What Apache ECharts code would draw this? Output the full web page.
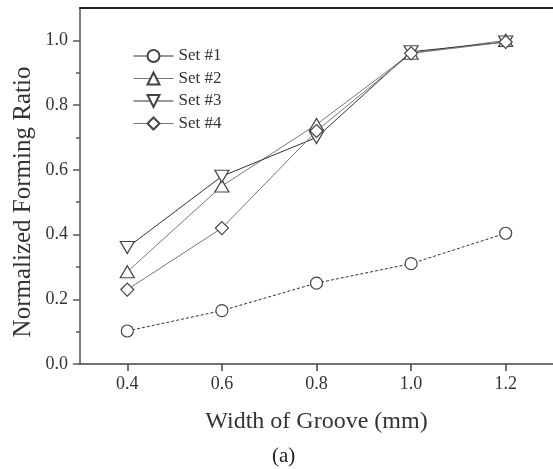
<!DOCTYPE html>
<html><head><meta charset="utf-8">
<script src="https://cdn.jsdelivr.net/npm/echarts@6/dist/echarts.min.js"></script>
<style>html,body{margin:0;padding:0;background:#fff}#c{width:553px;height:469px}</style>
</head><body><div id="c"></div>
<script>
var widths = [0.4, 0.6, 0.8, 1.0, 1.2];
var set1 = [0.102, 0.165, 0.25, 0.31, 0.404];
var set2 = [0.285, 0.55, 0.74, 0.96, 1.0];
var set3 = [0.36, 0.58, 0.70, 0.965, 0.995];
var set4 = [0.23, 0.42, 0.72, 0.96, 0.995];
var seriesNames = ['Set #1', 'Set #2', 'Set #3', 'Set #4'];
var xTicks = [0.4, 0.6, 0.8, 1.0, 1.2];
var yTicks = [0.0, 0.2, 0.4, 0.6, 0.8, 1.0];
var yMinorTicks = [0.1, 0.3, 0.5, 0.7, 0.9];

function pairs(v){ return widths.map(function(x,i){ return [x, v[i]]; }); }
var font = '"Liberation Serif", "DejaVu Serif", serif';
var diamond = 'path://M0,-1L1,0L0,1L-1,0Z';
function mk(name, data, symbol, size, color, type, rot){
  return {
    name: name, type: 'line', data: pairs(data), symbol: symbol, symbolSize: size,
    symbolRotate: rot || 0,
    lineStyle: {color: color, width: 1, type: type},
    itemStyle: {color: '#fff', borderColor: '#444', borderWidth: 1.2},
    emphasis: {disabled: true}, animation: false, z: 3
  };
}
var chart = echarts.init(document.getElementById('c'), null, {renderer: 'canvas'});
chart.setOption({
  animation: false,
  backgroundColor: '#fff',
  grid: {left: 80, width: 476, top: 8, height: 356, containLabel: false},
  legend: {
    orient: 'vertical', left: 133, top: 47.5, padding: 0,
    itemWidth: 40, itemHeight: 15, itemGap: 5.5,
    lineStyle: {type: 'solid', width: 1},
    textStyle: {fontFamily: font, fontSize: 17, color: '#333'},
    data: seriesNames
  },
  xAxis: [{
    type: 'value', min: 0.3, max: 1.3,
    name: 'Width of Groove (mm)', nameLocation: 'middle', nameGap: 46,
    nameTextStyle: {fontFamily: font, fontSize: 24, color: '#333'},
    axisLine: {lineStyle: {color: '#444', width: 1.5}},
    axisTick: {show: true, length: 7, inside: false, customValues: xTicks,
      lineStyle: {color: '#444', width: 1.5}},
    axisLabel: {fontFamily: font, fontSize: 18, color: '#333', margin: 11, customValues: xTicks,
      formatter: function(v){ return v.toFixed(1); }},
    splitLine: {show: false}
  }, {
    type: 'value', position: 'top', min: 0.3, max: 1.3,
    axisLine: {show: true, onZero: false, lineStyle: {color: '#222', width: 2}},
    axisTick: {show: false}, axisLabel: {show: false}, splitLine: {show: false}
  }],
  yAxis: [{
    type: 'value', min: 0, max: 1.1, interval: 0.1,
    axisLine: {show: true, lineStyle: {color: '#555', width: 1.5}},
    axisTick: {show: true, length: 7, customValues: yTicks, lineStyle: {color: '#555', width: 1.5}},
    axisLabel: {fontFamily: font, fontSize: 18, color: '#333', margin: 12, customValues: yTicks,
      formatter: function(v){ return v.toFixed(1); }},
    splitLine: {show: false}
  }, {
    type: 'value', min: 0, max: 1.1, position: 'left',
    axisLine: {show: false},
    axisTick: {show: true, length: 4, customValues: yMinorTicks, lineStyle: {color: '#555', width: 1.5}},
    axisLabel: {show: false}, splitLine: {show: false}
  }],
  series: [
    mk('Set #1', set1, 'circle', 12, '#333', [3, 2]),
    mk('Set #2', set2, 'triangle', [14, 12], '#777', 'solid'),
    mk('Set #3', set3, 'triangle', [14, 12], '#333', 'solid', 180),
    mk('Set #4', set4, diamond, 13, '#777', 'solid')
  ],
  graphic: [{
    type: 'text', x: 23, y: 202, rotation: Math.PI / 2,
    style: {text: 'Normalized Forming Ratio', fontFamily: font, fontSize: 25, fill: '#333',
      align: 'center', verticalAlign: 'middle'}
  }, {
    type: 'text', left: 272, top: 446,
    style: {text: '(a)', fontFamily: font, fontSize: 21, fill: '#222'}
  }]
});
</script></body></html>
